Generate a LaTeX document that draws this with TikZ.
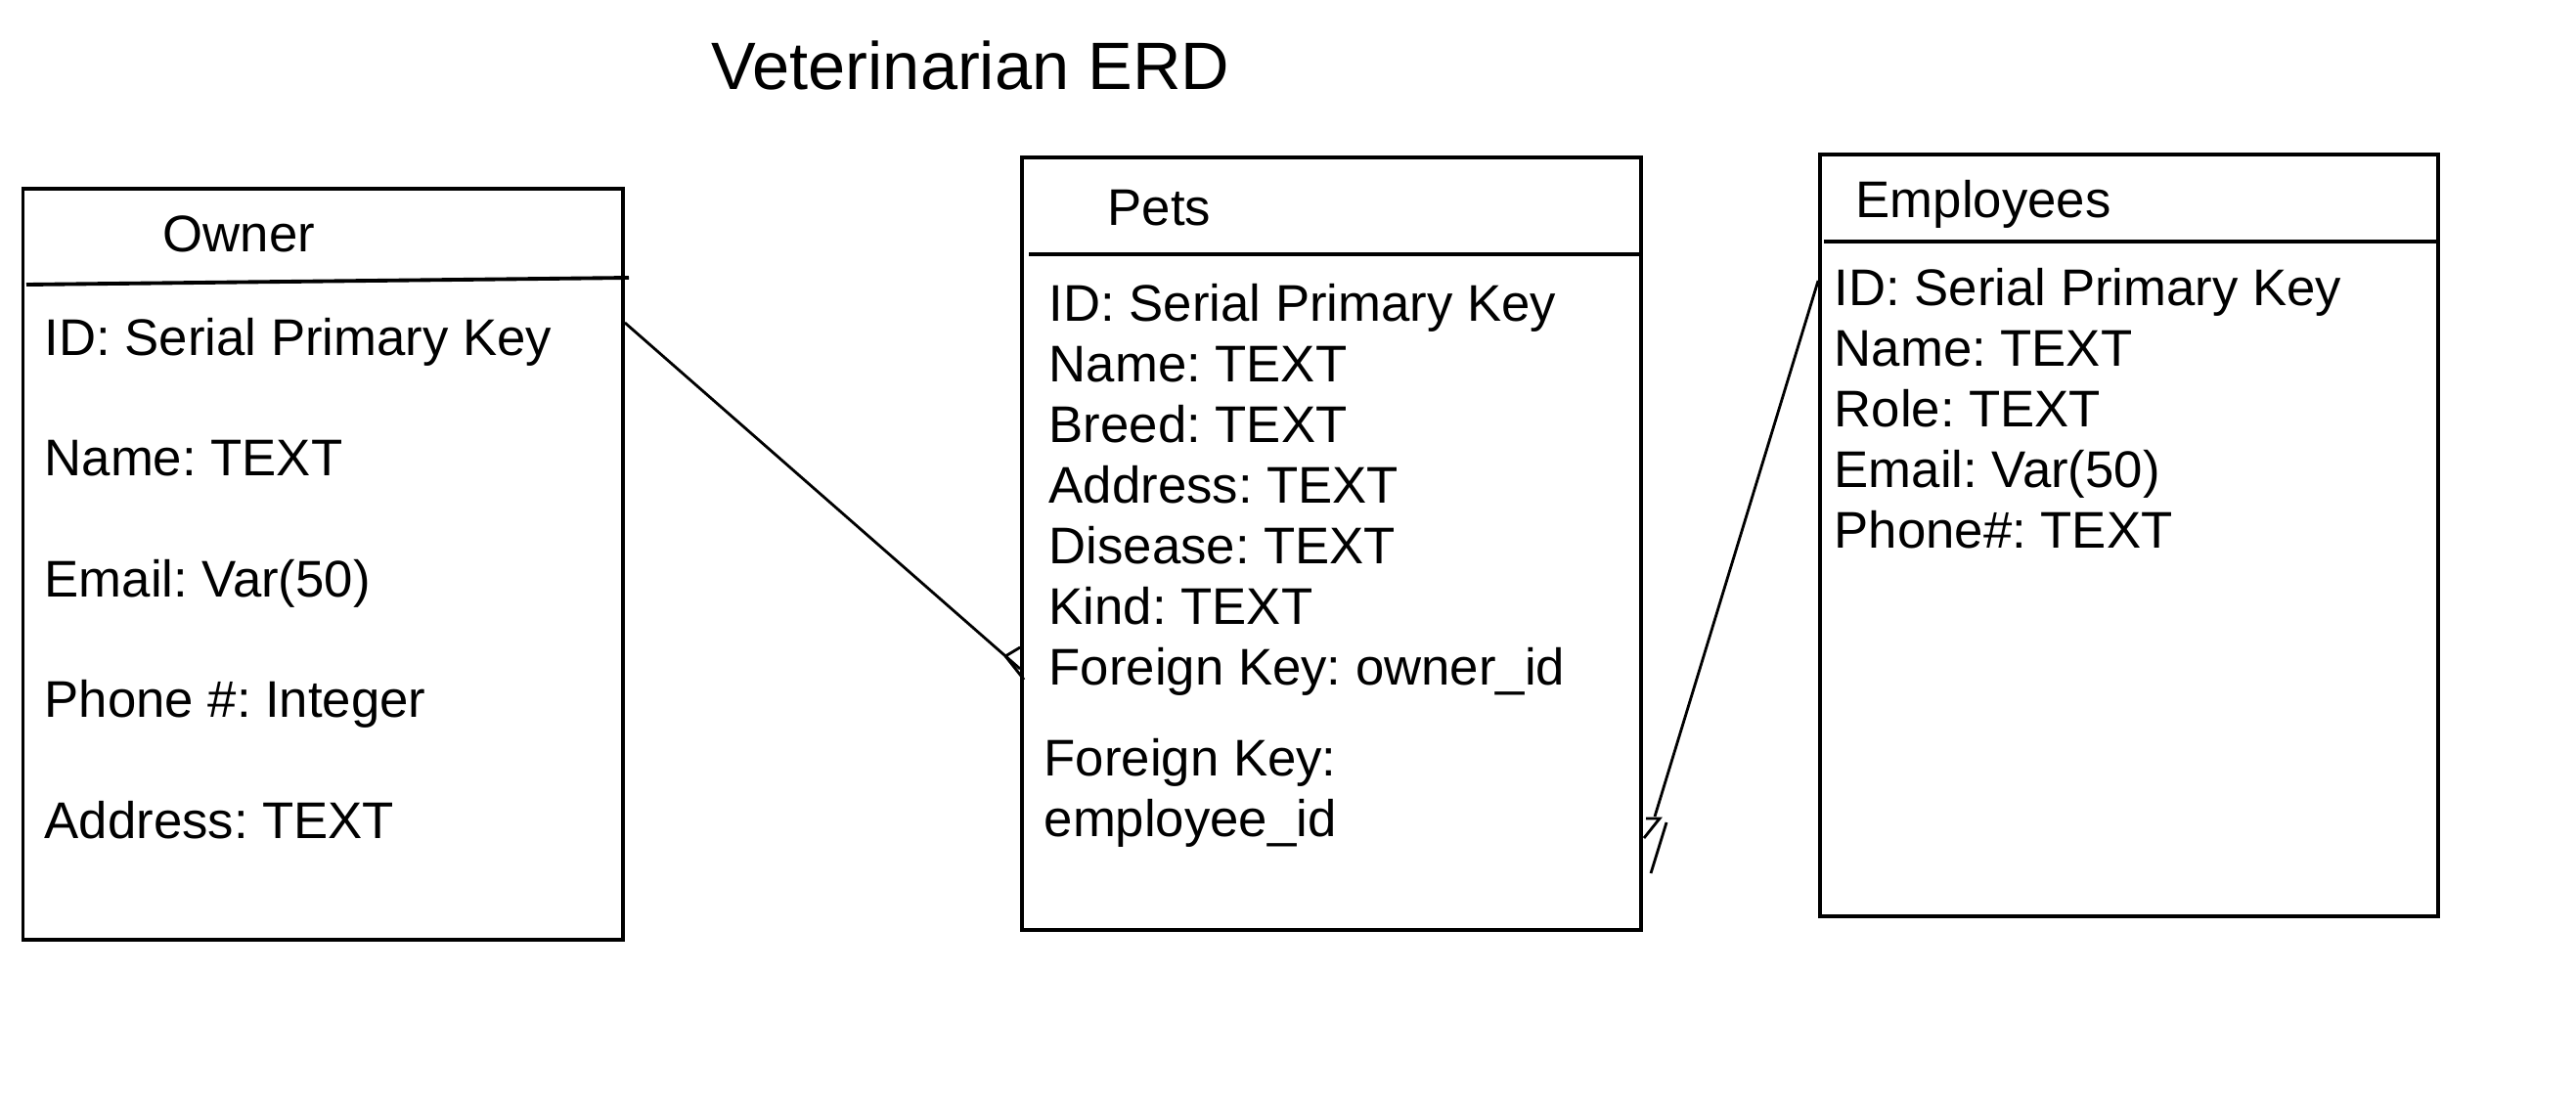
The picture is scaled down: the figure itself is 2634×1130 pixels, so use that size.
\documentclass[tikz,border=0pt]{standalone}
\usepackage{fontspec}
\setmainfont{Liberation Sans}
\frenchspacing
\begin{document}
\begin{tikzpicture}[x=0.1mm,y=-0.1mm,
  entity/.style={draw=black,line width=1.1pt},
  rel/.style={draw=black,line width=0.8pt},
  attr/.style={anchor=base west,font=\fontsize{15}{18}\selectfont},
  heading/.style={anchor=base west,font=\fontsize{19.5}{23}\selectfont}]
\tikzstyle{every node}+=[inner sep=0pt]
\useasboundingbox (0,0) rectangle (2634,1130);

\node[heading] (title) at (727,91) {Veterinarian ERD};

\node[entity,minimum width=61.35mm,minimum height=76.8mm] (owner) at (330.25,577) {};
\node[attr] (ownername) at (166,257) {Owner};
\draw[entity] (27,291) -- (643,284);
\foreach \t [count=\i from 0] in {ID: Serial Primary Key,Name: TEXT,Email: Var(50),Phone \#: Integer,Address: TEXT}
  \node[attr] (owner\i) at (45,{363+123.5*\i}) {\t};

\node[entity,minimum width=63.3mm,minimum height=79mm] (pets) at (1361.5,556) {};
\node[attr] (petsname) at (1132,230) {Pets};
\draw[entity] (1052,260) -- (1678,260);
\foreach \t [count=\i from 0] in {ID: Serial Primary Key,Name: TEXT,Breed: TEXT,Address: TEXT,Disease: TEXT,Kind: TEXT,Foreign Key: owner\_id}
  \node[attr] (pets\i) at (1072,{328+62*\i}) {\t};
\node[attr] (petsfk) at (1067,793) {Foreign Key:};
\node[attr] (petsemp) at (1067,855) {employee\_id};

\node[entity,minimum width=63.2mm,minimum height=77.9mm] (employees) at (2177,547.5) {};
\node[attr] (employeesname) at (1897,222) {Employees};
\draw[entity] (1865,247) -- (2493,247);
\foreach \t [count=\i from 0] in {ID: Serial Primary Key,Name: TEXT,Role: TEXT,Email: Var(50),Phone\#: TEXT}
  \node[attr] (employees\i) at (1875,{312+62*\i}) {\t};

\coordinate (ownerend) at (owner.east |- 0,330);
\coordinate (petsfoot) at (pets.west |- 0,684);
\draw[rel] (ownerend) -- (petsfoot);
\draw[rel] (petsfoot) ++(-15,-13) -- ++(15,-9);
\draw[rel] (petsfoot) ++(-15,-13) -- ++(19,24);

\coordinate (employeesend) at (employees.west |- 0,287);
\coordinate (petsbar) at (1692,835);
\draw[rel] (employeesend) -- (petsbar);
\draw[rel] (petsbar) ++(-9,2) -- ++(14,0) -- ++(-16,20);
\draw[rel] (petsbar) ++(12,6) -- ++(-16,52);
\end{tikzpicture}
\end{document}
